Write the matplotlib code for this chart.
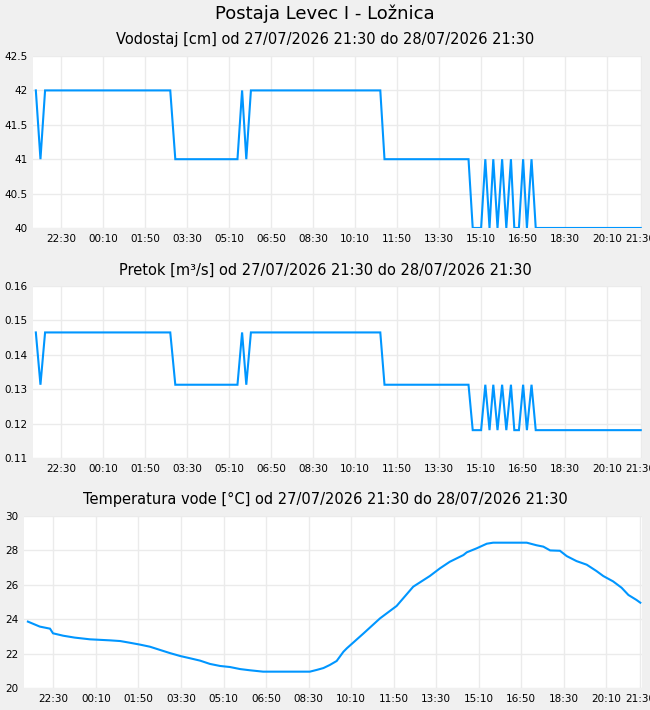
import matplotlib
matplotlib.use('Agg')
import matplotlib.pyplot as plt
import matplotlib.dates as mdates
import pandas as pd

# zacetek obdobja (27/07/2026 21:30), casi so v minutah od zacetka
start = pd.Timestamp('2026-07-27 21:30')

# vodostaj [cm] in pretok [m3/s] - prelomne tocke
vod_min = [0, 11, 22, 320, 332, 480, 491, 501, 512, 820, 830, 1030, 1040, 1060,
           1070, 1080, 1089, 1099, 1110, 1120, 1131, 1139, 1150, 1160, 1169, 1180,
           1190, 1440]
vodostaj = [42, 41, 42, 42, 41, 41, 42, 41, 42, 42, 41, 41, 40, 40,
            41, 40, 41, 40, 41, 40, 41, 40, 40, 41, 40, 41,
            40, 40]
pretok = [0.1465, 0.1313, 0.1465, 0.1465, 0.1313, 0.1313, 0.1465, 0.1313, 0.1465,
          0.1465, 0.1313, 0.1313, 0.1181, 0.1181, 0.1313, 0.1181, 0.1313, 0.1181,
          0.1313, 0.1181, 0.1313, 0.1181, 0.1181, 0.1313, 0.1181, 0.1313,
          0.1181, 0.1181]

# temperatura vode [°C]
temp_min = [0, 28, 52, 59, 83, 110, 146, 193, 217, 240, 264, 287, 311, 334, 358,
            381, 405, 428, 452, 475, 499, 522, 553, 663, 679, 695, 710, 726, 742,
            750, 789, 828, 867, 906, 945, 969, 992, 1024, 1032, 1055, 1079, 1094,
            1173, 1196, 1212, 1228, 1251, 1267, 1290, 1314, 1337, 1353, 1376, 1396,
            1412, 1431, 1440]
temperatura = [23.86, 23.57, 23.45, 23.18, 23.04, 22.93, 22.83, 22.77, 22.73, 22.63,
               22.52, 22.40, 22.21, 22.03, 21.86, 21.73, 21.59, 21.40, 21.28, 21.22,
               21.10, 21.03, 20.95, 20.95, 21.05, 21.16, 21.34, 21.57, 22.11,
               22.31, 23.17, 24.05, 24.77, 25.89, 26.51, 26.96, 27.34, 27.73, 27.89,
               28.12, 28.39, 28.45, 28.45, 28.30, 28.22, 28.00, 27.98, 27.67, 27.38,
               27.17, 26.80, 26.51, 26.20, 25.83, 25.41, 25.12, 24.96]

# oznake na x osi
tick_min = [60, 160, 260, 360, 460, 560, 660, 760, 860, 960, 1060, 1160, 1260, 1360, 1440]

title = 'Postaja Levec I - Ložnica'
naslovi = ['Vodostaj [cm] od 27/07/2026 21:30 do 28/07/2026 21:30',
           'Pretok [m³/s] od 27/07/2026 21:30 do 28/07/2026 21:30',
           'Temperatura vode [°C] od 27/07/2026 21:30 do 28/07/2026 21:30']

barva = '#0096ff'
bg = '#f0f0f0'
grid = '#ebebeb'

vod_t = start + pd.to_timedelta(vod_min, unit='min')
temp_t = start + pd.to_timedelta(temp_min, unit='min')
ticks = start + pd.to_timedelta(tick_min, unit='min')

fig = plt.figure(figsize=(6.5, 7.1), dpi=100, facecolor=bg)
fig.text(0.5, 0.981, title, ha='center', va='center', fontsize=13)

# [left, bottom, width, height]
pozicije = [[0.0508, 0.6789, 0.9369, 0.2422],
            [0.0508, 0.3549, 0.9369, 0.2423],
            [0.0369, 0.0310, 0.9508, 0.2422]]
naslov_y = [0.944, 0.620, 0.297]
xlims = [(-6.7, 1443), (-6.7, 1443), (-9.2, 1444)]
ylims = [(40, 42.5), (0.11, 0.16), (20, 30)]
yticks = [[40, 40.5, 41, 41.5, 42, 42.5],
          [0.11, 0.12, 0.13, 0.14, 0.15, 0.16],
          [20, 22, 24, 26, 28, 30]]
ylabels = [['40', '40.5', '41', '41.5', '42', '42.5'],
           ['0.11', '0.12', '0.13', '0.14', '0.15', '0.16'],
           ['20', '22', '24', '26', '28', '30']]
serije = [(vod_t, vodostaj), (vod_t, pretok), (temp_t, temperatura)]

for i in range(3):
    ax = fig.add_axes(pozicije[i])
    ax.set_facecolor('white')
    x, y = serije[i]
    ax.plot(x, y, color=barva, lw=1.5, solid_joinstyle='miter')
    ax.set_xlim(start + pd.Timedelta(minutes=xlims[i][0]),
                start + pd.Timedelta(minutes=xlims[i][1]))
    ax.set_ylim(ylims[i])
    ax.set_yticks(yticks[i])
    ax.set_yticklabels(ylabels[i])
    ax.set_xticks(ticks)
    ax.xaxis.set_major_formatter(mdates.DateFormatter('%H:%M'))
    ax.grid(True, color=grid, lw=1)
    ax.set_axisbelow(True)
    for s in ax.spines.values():
        s.set_visible(False)
    ax.tick_params(length=0, labelsize=7.5, pad=4)
    fig.text(0.5, naslov_y[i], naslovi[i], ha='center', va='center', fontsize=10.5)

fig.savefig('out.png', dpi=100, facecolor=bg)
